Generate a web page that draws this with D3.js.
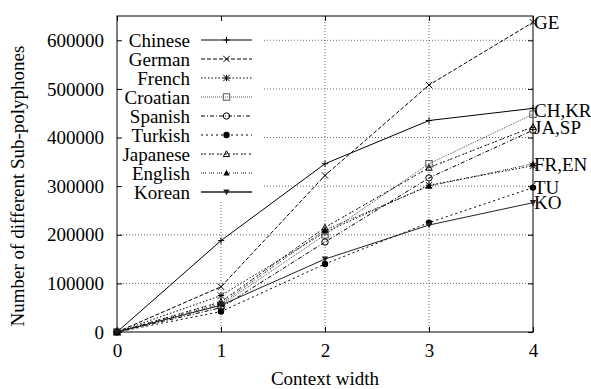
<!DOCTYPE html>
<html>
<head>
<meta charset="utf-8">
<script src="https://cdn.jsdelivr.net/npm/d3@7"></script>
<style>
body { margin: 0; background: #fff; }
text { font-family: "Liberation Serif", "Times New Roman", serif; fill: #000; }
</style>
</head>
<body>
<div id="chart"></div>
<script>
// context width on x
var widths = [0, 1, 2, 3, 4]
var yTicks = [0, 100000, 200000, 300000, 400000, 500000, 600000]

var chinese  = [0, 188000, 346000, 435000, 460000]
var german   = [0, 93000, 322000, 508000, 637000]
var french   = [0, 75000, 205000, 302000, 342000]
var croatian = [0, 55000, 200000, 346000, 448000]
var spanish  = [0, 50000, 185000, 317000, 415000]
var turkish  = [0, 42000, 140000, 225000, 297000]
var japanese = [0, 62000, 215000, 338000, 422000]
var english  = [0, 58000, 210000, 300000, 346000]
var korean   = [0, 55000, 150000, 220000, 266000]

var languages = ["Chinese", "German", "French", "Croatian", "Spanish", "Turkish", "Japanese", "English", "Korean"]
var seriesValues = [chinese, german, french, croatian, spanish, turkish, japanese, english, korean]

// labels at the right end
var endLabels = ["GE", "CH,KR", "JA,SP", "FR,EN", "TU", "KO"]
var endLabelValues = [637000, 455000, 420000, 344000, 297000, 266000]

// styles per language
var dashes = [null, "4,2", "1.5,2", "1,1", "4,2,1,2", "2,3", "2,1,2,3", "1,1,1,1,1,3", null]
var strokes = ["#000", "#000", "#000", "#555", "#000", "#000", "#000", "#000", "#222"]
var symbols = ["plus", "cross", "star", "square", "circle", "dot", "triangle", "filltri", "downtri"]

var svg = d3.select('#chart').append('svg')
    .attr('width', 591)
    .attr('height', 389)

var margin = {top: 16, right: 58, bottom: 57, left: 117}
var W = 591, H = 389

var x = d3.scaleLinear()
    .domain([0, 4])
    .range([margin.left, W - margin.right])

var y = d3.scaleLinear()
    .domain([0, 650000])
    .range([H - margin.bottom, margin.top])

// grid
var grid = svg.append("g")
    .attr("stroke", "#444")
    .attr("stroke-width", 0.8)
    .attr("stroke-dasharray", "1,2")
grid.selectAll(".gx").data(widths.slice(1, 4)).enter().append("line")
    .attr("x1", d => x(d)).attr("x2", d => x(d))
    .attr("y1", y(0)).attr("y2", y(650000))
grid.selectAll(".gy").data(yTicks.slice(1)).enter().append("line")
    .attr("x1", x(0)).attr("x2", x(4))
    .attr("y1", d => y(d)).attr("y2", d => y(d))

// key area hides the grid
svg.append("rect")
    .attr("x", x(0) + 1).attr("y", y(650000) + 1)
    .attr("width", 145).attr("height", 184)
    .attr("fill", "#fff")

// axes, ticks inward and mirrored
var axes = svg.append("g")
axes.append("g")
    .attr("transform", `translate(0,${y(0)})`)
    .call(d3.axisBottom(x).tickValues(widths).tickSize(-5).tickPadding(12).tickFormat(d3.format("d")))
axes.append("g")
    .attr("transform", `translate(0,${y(650000)})`)
    .call(d3.axisTop(x).tickValues(widths).tickSize(-5).tickFormat(""))
axes.append("g")
    .attr("transform", `translate(${x(0)},0)`)
    .call(d3.axisLeft(y).tickValues(yTicks).tickSize(-5).tickPadding(13).tickFormat(d3.format("d")))
axes.append("g")
    .attr("transform", `translate(${x(4)},0)`)
    .call(d3.axisRight(y).tickValues(yTicks).tickSize(-5).tickFormat(""))
axes.selectAll(".domain").remove()
axes.selectAll("line").attr("stroke", "#000")
axes.selectAll("text").attr("font-size", 19).attr("font-family", "Liberation Serif")

svg.append("rect")
    .attr("x", x(0)).attr("y", y(650000))
    .attr("width", x(4) - x(0)).attr("height", y(0) - y(650000))
    .attr("fill", "none").attr("stroke", "#000").attr("stroke-width", 1)

function drawSymbol(g, type, cx, cy, color) {
    var s = 3.2
    if (type == "plus") {
        g.append("path").attr("d", `M${cx-s},${cy}H${cx+s}M${cx},${cy-s}V${cy+s}`).attr("stroke", color).attr("fill", "none")
    } else if (type == "cross") {
        g.append("path").attr("d", `M${cx-s},${cy-s}L${cx+s},${cy+s}M${cx-s},${cy+s}L${cx+s},${cy-s}`).attr("stroke", color).attr("fill", "none")
    } else if (type == "star") {
        g.append("path").attr("d", `M${cx-s},${cy-s}L${cx+s},${cy+s}M${cx-s},${cy+s}L${cx+s},${cy-s}M${cx-s},${cy}H${cx+s}M${cx},${cy-s}V${cy+s}`).attr("stroke", color).attr("fill", "none")
    } else if (type == "square") {
        g.append("rect").attr("x", cx - s).attr("y", cy - s).attr("width", 2 * s).attr("height", 2 * s).attr("stroke", color).attr("fill", "none")
    } else if (type == "circle") {
        g.append("circle").attr("cx", cx).attr("cy", cy).attr("r", s).attr("stroke", color).attr("fill", "none")
    } else if (type == "dot") {
        g.append("circle").attr("cx", cx).attr("cy", cy).attr("r", s).attr("fill", color)
    } else if (type == "triangle") {
        g.append("path").attr("d", `M${cx},${cy-s}L${cx+s},${cy+s*0.8}L${cx-s},${cy+s*0.8}Z`).attr("stroke", color).attr("fill", "none")
    } else if (type == "filltri") {
        g.append("path").attr("d", `M${cx},${cy-s}L${cx+s},${cy+s*0.8}L${cx-s},${cy+s*0.8}Z`).attr("fill", color)
    } else if (type == "downtri") {
        g.append("path").attr("d", `M${cx},${cy+s}L${cx+s},${cy-s*0.8}L${cx-s},${cy-s*0.8}Z`).attr("fill", color)
    }
}

var line = d3.line()
    .x((d, i) => x(widths[i]))
    .y(d => y(d))

seriesValues.forEach(function(vals, k) {
    var g = svg.append("g")
    g.append("path")
        .attr("d", line(vals))
        .attr("fill", "none")
        .attr("stroke", strokes[k])
        .attr("stroke-width", 1)
        .attr("stroke-dasharray", dashes[k])
    vals.forEach(function(v, i) {
        drawSymbol(g, symbols[k], x(widths[i]), y(v), strokes[k])
    })
})

// key
var keyRow = 19
languages.forEach(function(name, k) {
    var ky = 40 + k * keyRow
    svg.append("text")
        .attr("x", 190).attr("y", ky).attr("dy", "0.35em")
        .attr("text-anchor", "end").attr("font-size", 19)
        .text(name)
    svg.append("line")
        .attr("x1", 201).attr("x2", 252).attr("y1", ky).attr("y2", ky)
        .attr("stroke", strokes[k])
        .attr("stroke-width", k == 8 ? 1.5 : 1)
        .attr("stroke-dasharray", dashes[k])
    drawSymbol(svg.append("g"), symbols[k], 226.5, ky, strokes[k])
})

// end labels
svg.selectAll(".endlabel").data(endLabels).enter().append("text")
    .attr("x", x(4) + 1)
    .attr("y", (d, i) => y(endLabelValues[i]))
    .attr("dy", "0.35em")
    .attr("font-size", 19)
    .text(d => d)

// axis titles
svg.append("text")
    .attr("x", (x(0) + x(4)) / 2 - 0).attr("y", 385)
    .attr("text-anchor", "middle").attr("font-size", 19)
    .text("Context width")
svg.append("text")
    .attr("transform", "translate(24,186) rotate(-90)")
    .attr("text-anchor", "middle").attr("font-size", 19)
    .text("Number of different Sub-polyphones")
</script>
</body>
</html>
